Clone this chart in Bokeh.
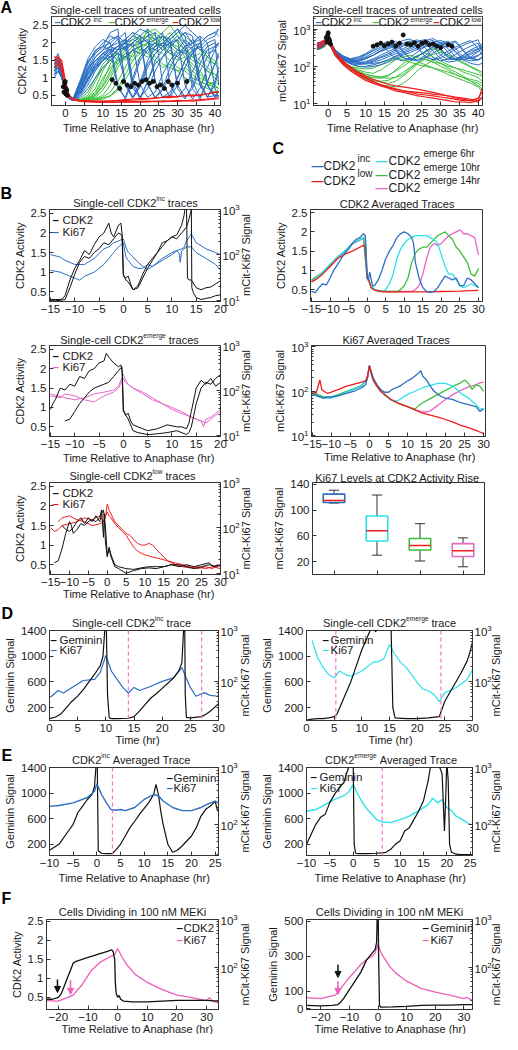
from math import pi
from bokeh.plotting import figure
from bokeh.models import (Range1d, LogAxis, LogScale, FixedTicker, Label, GridBox,
                          NumeralTickFormatter, Span, Arrow, NormalHead)
from bokeh.layouts import column, row
from bokeh.embed import file_html
from bokeh.resources import INLINE

# ---------------- data ----------------
A_T = [-3, -2, -1, 0, 1, 2, 4, 6, 8, 10, 12, 14, 16, 18, 20, 22, 24, 26, 28, 30, 32, 34, 36, 38, 40, 41]
A_CDK2_INC = [
    [1.3, 1.5, 1.2, 0.75, 0.45, 0.4, 0.9, 1.4, 1.8, 1.9, 2.0, 0.8, 0.4, 0.9, 1.5, 1.8, 2.0, 1.9, 2.1, 0.7, 0.4, 0.8, 1.4, 1.8, 1.9, 2.0],
    [1.2, 1.4, 1.1, 0.7, 0.45, 0.38, 0.7, 1.2, 1.6, 1.8, 1.9, 2.0, 2.1, 0.8, 0.4, 0.9, 1.5, 1.8, 2.0, 2.2, 1.9, 0.7, 0.4, 0.9, 1.4, 1.6],
    [1.5, 1.6, 1.3, 0.8, 0.5, 0.42, 0.6, 1.0, 1.4, 1.7, 1.8, 1.9, 2.0, 2.2, 2.1, 0.8, 0.45, 0.7, 1.3, 1.7, 1.9, 2.0, 2.1, 0.8, 0.5, 0.5],
    [1.1, 1.3, 1.0, 0.65, 0.4, 0.35, 0.55, 0.9, 1.3, 1.6, 1.8, 1.7, 0.9, 0.45, 0.8, 1.4, 1.7, 1.9, 2.0, 1.8, 2.1, 1.9, 0.8, 0.45, 0.9, 1.3],
    [1.4, 1.5, 1.2, 0.7, 0.45, 0.4, 0.8, 1.3, 1.5, 1.7, 1.6, 1.8, 1.9, 2.0, 0.8, 0.45, 0.6, 1.1, 1.5, 1.8, 1.7, 1.9, 2.0, 2.2, 2.3, 2.2],
    [1.2, 1.3, 1.1, 0.7, 0.42, 0.36, 0.5, 0.8, 1.2, 1.5, 1.7, 1.9, 2.1, 2.3, 2.2, 2.4, 0.9, 0.45, 0.5, 1.0, 1.5, 1.8, 1.9, 1.7, 1.8, 1.6],
    [1.3, 1.4, 1.2, 0.75, 0.45, 0.4, 0.65, 1.1, 1.5, 1.6, 1.9, 2.1, 1.8, 2.0, 2.2, 2.0, 2.1, 2.3, 0.8, 0.45, 0.7, 1.2, 1.6, 1.9, 2.0, 1.9],
    [1.6, 1.5, 1.2, 0.7, 0.45, 0.38, 0.9, 1.5, 1.7, 1.9, 1.8, 0.7, 0.45, 1.0, 1.6, 1.9, 1.8, 2.0, 1.9, 2.1, 0.8, 0.4, 0.7, 1.3, 1.8, 2.0],
    [1.0, 1.2, 1.0, 0.6, 0.4, 0.35, 0.45, 0.7, 1.0, 1.3, 1.5, 1.7, 1.6, 1.8, 1.9, 1.7, 1.9, 2.0, 2.2, 2.4, 2.0, 1.8, 0.8, 0.45, 0.5, 0.6],
    [1.3, 1.4, 1.1, 0.7, 0.45, 0.4, 0.75, 1.25, 1.6, 1.8, 2.1, 2.2, 2.0, 1.9, 2.0, 2.1, 0.9, 0.45, 0.6, 1.0, 1.5, 1.7, 1.9, 2.1, 2.2, 2.4],
    [1.5, 1.7, 1.3, 0.8, 0.5, 0.4, 0.6, 1.0, 1.3, 1.5, 1.7, 1.5, 1.6, 1.8, 1.7, 1.9, 2.0, 1.8, 2.0, 2.1, 2.3, 2.0, 2.2, 0.8, 0.45, 0.5],
    [1.2, 1.3, 1.0, 0.7, 0.45, 0.38, 0.7, 1.1, 1.4, 1.6, 1.5, 1.7, 1.9, 0.7, 0.45, 0.9, 1.4, 1.6, 1.8, 1.6, 1.9, 2.1, 1.8, 2.0, 0.7, 0.45],
    [1.4, 1.6, 1.3, 0.8, 0.48, 0.4, 0.85, 1.45, 1.75, 2.0, 2.2, 2.1, 2.3, 0.9, 0.45, 0.7, 1.2, 1.6, 1.9, 2.1, 2.3, 2.2, 0.9, 0.45, 0.8, 1.2],
    [1.1, 1.2, 1.0, 0.65, 0.42, 0.37, 0.6, 1.0, 1.35, 1.55, 1.75, 1.9, 1.8, 2.0, 2.2, 0.85, 0.42, 0.65, 1.1, 1.5, 1.8, 2.0, 2.2, 2.0, 2.1, 0.8],
    [1.3, 1.5, 1.1, 0.7, 0.44, 0.38, 0.8, 1.3, 1.7, 1.9, 2.3, 2.4, 0.8, 0.42, 0.75, 1.3, 1.7, 1.9, 2.2, 2.4, 2.2, 0.9, 0.45, 0.9, 1.4, 1.7],
    [1.5, 1.4, 1.2, 0.75, 0.46, 0.39, 0.7, 1.15, 1.5, 1.7, 1.9, 1.8, 2.0, 2.1, 2.0, 2.2, 2.3, 0.85, 0.45, 0.8, 1.3, 1.7, 2.0, 2.2, 2.3, 2.4],
    [1.2, 1.4, 1.1, 0.7, 0.43, 0.37, 0.55, 0.95, 1.25, 1.5, 1.6, 1.8, 2.0, 2.2, 2.4, 2.3, 2.1, 2.2, 2.0, 0.8, 0.45, 0.7, 1.2, 1.6, 1.9, 2.0],
    [1.4, 1.5, 1.3, 0.78, 0.47, 0.41, 0.95, 1.55, 1.9, 2.1, 2.0, 2.2, 0.85, 0.43, 0.9, 1.5, 1.9, 2.2, 2.1, 2.3, 2.5, 2.3, 2.1, 0.8, 0.45, 0.6],
]
A_CDK2_EMERGE = [
    [1.4, 1.5, 1.2, 0.7, 0.45, 0.4, 0.38, 0.45, 0.7, 1.2, 1.6, 1.8, 2.0, 1.9, 2.1, 2.2, 2.0, 1.8, 1.9, 1.7, 1.8, 1.6, 1.7, 1.5, 1.4, 1.3],
    [1.2, 1.3, 1.0, 0.65, 0.42, 0.36, 0.35, 0.4, 0.5, 0.8, 1.2, 1.6, 1.9, 2.1, 2.2, 2.0, 2.3, 2.1, 2.0, 1.9, 1.6, 1.4, 1.2, 0.9, 0.8, 0.7],
    [1.5, 1.6, 1.3, 0.75, 0.45, 0.38, 0.36, 0.38, 0.42, 0.5, 0.8, 1.3, 1.6, 1.8, 1.9, 2.4, 2.2, 1.9, 1.7, 1.5, 1.6, 1.3, 1.1, 0.9, 0.7, 0.6],
    [1.3, 1.4, 1.1, 0.7, 0.44, 0.38, 0.4, 0.6, 1.0, 1.4, 1.6, 1.7, 1.5, 1.8, 1.7, 1.6, 1.8, 2.0, 1.9, 2.1, 1.8, 1.6, 1.4, 1.2, 1.0, 0.9],
    [1.1, 1.2, 1.0, 0.6, 0.42, 0.36, 0.35, 0.36, 0.38, 0.42, 0.5, 0.7, 1.1, 1.5, 1.8, 2.0, 1.9, 2.1, 2.3, 2.0, 1.8, 1.7, 1.5, 1.3, 1.1, 1.0],
    [1.4, 1.5, 1.2, 0.7, 0.45, 0.4, 0.38, 0.5, 0.9, 1.3, 1.5, 1.4, 1.6, 1.5, 1.7, 1.9, 1.6, 1.4, 1.3, 1.2, 1.0, 0.9, 0.8, 0.7, 0.6, 0.6],
    [1.3, 1.3, 1.1, 0.7, 0.43, 0.37, 0.36, 0.37, 0.4, 0.45, 0.6, 0.9, 1.3, 1.7, 2.0, 2.2, 2.1, 2.3, 2.5, 2.2, 2.0, 1.8, 1.9, 1.6, 1.5, 1.4],
    [1.2, 1.4, 1.1, 0.68, 0.44, 0.38, 0.37, 0.42, 0.6, 1.0, 1.3, 1.5, 1.8, 2.0, 1.8, 1.7, 1.5, 1.3, 1.4, 1.2, 1.3, 1.1, 0.9, 0.8, 0.9, 0.8],
    [1.3, 1.4, 1.2, 0.72, 0.44, 0.38, 0.37, 0.39, 0.45, 0.65, 1.0, 1.4, 1.7, 1.9, 2.1, 2.3, 2.4, 2.2, 2.0, 1.8, 1.7, 1.5, 1.4, 1.2, 1.1, 1.0],
    [1.5, 1.5, 1.3, 0.75, 0.46, 0.39, 0.38, 0.42, 0.55, 0.9, 1.4, 1.8, 2.1, 2.3, 2.0, 1.9, 2.1, 1.9, 1.7, 1.6, 1.4, 1.2, 1.0, 0.9, 0.8, 0.7],
    [1.2, 1.3, 1.0, 0.66, 0.43, 0.37, 0.36, 0.36, 0.37, 0.4, 0.48, 0.65, 0.95, 1.3, 1.6, 1.8, 2.0, 2.2, 2.1, 2.3, 2.2, 2.0, 1.8, 1.6, 1.4, 1.3],
    [1.4, 1.5, 1.2, 0.7, 0.45, 0.39, 0.38, 0.4, 0.5, 0.75, 1.1, 1.5, 1.7, 1.6, 1.9, 2.0, 1.8, 1.7, 1.5, 1.3, 1.2, 1.0, 0.9, 0.8, 0.75, 0.7],
]
A_CDK2_LOW = [
    [1.5, 1.6, 1.4, 0.8, 0.5, 0.38, 0.34, 0.33, 0.32, 0.32, 0.31, 0.32, 0.33, 0.32, 0.33, 0.34, 0.33, 0.35, 0.34, 0.36, 0.35, 0.37, 0.38, 0.4, 0.42, 0.4],
    [1.6, 1.6, 1.5, 0.9, 0.5, 0.4, 0.35, 0.34, 0.33, 0.33, 0.34, 0.35, 0.36, 0.37, 0.38, 0.4, 0.42, 0.45, 0.44, 0.47, 0.5, 0.48, 0.52, 0.55, 0.6, 0.62],
    [1.3, 1.4, 1.2, 0.7, 0.45, 0.38, 0.33, 0.32, 0.31, 0.3, 0.3, 0.31, 0.31, 0.32, 0.31, 0.32, 0.33, 0.32, 0.34, 0.33, 0.35, 0.34, 0.36, 0.38, 0.4, 0.45],
    [1.4, 1.5, 1.3, 0.75, 0.48, 0.4, 0.36, 0.35, 0.34, 0.34, 0.35, 0.36, 0.38, 0.4, 0.42, 0.41, 0.43, 0.45, 0.48, 0.46, 0.5, 0.52, 0.5, 0.55, 0.58, 0.6],
]
A_KI67_INC = [
    [350, 400, 450, 600, 350, 250, 180, 160, 180, 220, 300, 450, 250, 160, 140, 180, 250, 350, 450, 300, 180, 150, 200, 280, 350, 400],
    [300, 320, 380, 550, 320, 220, 160, 140, 150, 180, 230, 300, 380, 480, 250, 150, 140, 180, 230, 300, 380, 450, 260, 160, 150, 170],
    [400, 450, 500, 700, 380, 260, 190, 150, 140, 160, 200, 260, 320, 400, 500, 550, 300, 180, 150, 200, 260, 330, 420, 500, 300, 200],
    [280, 300, 350, 500, 300, 200, 150, 130, 140, 170, 200, 250, 300, 350, 420, 480, 520, 300, 170, 140, 160, 210, 280, 350, 420, 250],
    [350, 380, 420, 600, 340, 240, 170, 140, 130, 130, 150, 180, 220, 280, 350, 420, 480, 530, 350, 200, 150, 160, 200, 260, 300, 350],
    [300, 330, 360, 520, 300, 210, 150, 120, 110, 120, 140, 170, 200, 250, 300, 380, 450, 500, 560, 420, 230, 160, 150, 170, 200, 230],
    [420, 450, 520, 750, 400, 270, 190, 160, 170, 210, 260, 330, 420, 260, 170, 150, 190, 250, 330, 400, 480, 300, 180, 160, 190, 240],
    [320, 350, 400, 580, 330, 230, 165, 135, 120, 115, 120, 130, 150, 180, 220, 270, 320, 380, 450, 500, 420, 250, 160, 140, 150, 180],
    [380, 400, 460, 650, 360, 240, 160, 120, 100, 95, 100, 110, 130, 160, 200, 240, 290, 340, 400, 450, 380, 240, 150, 120, 110, 120],
    [330, 360, 410, 560, 320, 220, 150, 115, 100, 100, 110, 125, 150, 190, 240, 300, 360, 400, 260, 160, 130, 140, 170, 210, 260, 300],
    [360, 390, 440, 620, 350, 240, 170, 150, 160, 200, 270, 380, 480, 280, 170, 150, 190, 260, 340, 420, 300, 180, 150, 180, 250, 320],
    [310, 340, 390, 540, 310, 210, 150, 125, 120, 135, 160, 200, 250, 310, 380, 450, 300, 180, 150, 170, 220, 290, 370, 450, 520, 300],
    [400, 420, 480, 680, 370, 250, 175, 140, 125, 120, 130, 150, 180, 220, 270, 330, 390, 450, 500, 280, 170, 150, 180, 230, 290, 350],
    [290, 320, 370, 520, 300, 205, 150, 130, 135, 160, 200, 270, 350, 420, 240, 160, 150, 200, 280, 360, 430, 480, 280, 170, 150, 170],
]
A_KI67_EMERGE = [
    [300, 330, 380, 520, 300, 200, 130, 100, 80, 70, 65, 80, 110, 150, 180, 200, 170, 150, 130, 120, 100, 90, 80, 70, 60, 55],
    [350, 380, 420, 600, 320, 210, 130, 95, 70, 55, 50, 48, 55, 80, 120, 160, 200, 230, 180, 140, 110, 90, 70, 60, 50, 40],
    [280, 300, 330, 480, 280, 180, 120, 90, 70, 60, 55, 50, 48, 50, 60, 90, 130, 170, 210, 240, 200, 160, 130, 100, 80, 70],
    [320, 340, 400, 560, 310, 200, 120, 85, 65, 50, 42, 38, 35, 40, 55, 80, 120, 160, 130, 100, 80, 60, 50, 40, 30, 25],
    [300, 320, 350, 500, 290, 190, 115, 80, 60, 45, 38, 32, 30, 28, 35, 50, 80, 110, 150, 120, 90, 70, 55, 40, 35, 30],
    [340, 360, 400, 550, 300, 200, 130, 100, 90, 85, 90, 110, 140, 170, 150, 130, 110, 100, 90, 80, 70, 60, 50, 45, 40, 35],
    [310, 340, 390, 540, 300, 195, 125, 95, 75, 62, 55, 52, 58, 75, 100, 140, 190, 250, 300, 260, 200, 150, 120, 95, 75, 60],
    [330, 350, 400, 570, 310, 205, 128, 92, 68, 52, 44, 40, 42, 52, 70, 95, 130, 110, 90, 75, 60, 50, 42, 35, 28, 22],
]
A_KI67_LOW = [
    [400, 420, 480, 650, 350, 220, 130, 90, 65, 50, 40, 32, 28, 25, 22, 20, 18, 17, 16, 15, 14, 13, 12, 12, 11, 15],
    [350, 380, 430, 600, 320, 200, 120, 85, 60, 48, 38, 32, 27, 24, 22, 21, 20, 19, 18, 17, 16, 14, 13, 12, 14, 20],
    [300, 330, 380, 550, 300, 190, 110, 75, 55, 42, 35, 30, 26, 22, 20, 18, 16, 15, 14, 13, 12, 11, 11, 10.5, 12, 25],
    [420, 450, 500, 700, 380, 230, 140, 95, 70, 55, 45, 38, 33, 30, 28, 26, 24, 22, 20, 18, 16, 15, 14, 13, 12, 14],
]
DOT_A_T = [-0.6, -0.4, -0.2, 0, 0.1, 0.3, 0.5, -0.1, 12.5, 13.5, 14.5, 15.5, 16.5, 17.5, 18.5, 19.5, 20.5, 21.5, 22.5, 23.5, 24.5, 25.5, 26.5, 27.5, 28.5, 30, 32.5]
DOT_A_CDK2 = [0.75, 0.6, 0.85, 0.55, 0.7, 0.65, 0.5, 0.9, 0.95, 0.85, 0.7, 0.9, 0.8, 0.75, 0.85, 0.8, 0.9, 0.95, 0.85, 0.9, 0.75, 0.8, 0.7, 0.9, 0.8, 0.85, 0.9]
DOT_K_T = [-0.5, -0.3, -0.1, 0, 0.2, 0.4, 0.6, 12, 13, 14, 15, 16, 17, 18, 19, 20, 21, 22, 23, 24, 25, 26, 27, 28, 29, 30, 32, 33]
DOT_K_V = [600, 450, 700, 800, 550, 480, 400, 350, 380, 420, 360, 400, 450, 350, 420, 700, 400, 380, 430, 350, 420, 450, 380, 400, 350, 320, 380, 350]

# B: single-cell traces
B1_K1_T = [-15, -14, -13, -12.5, -12, -11, -10, -9, -8, -7, -6, -5, -4, -3, -2.5, -2, -1, -0.5, -0.2, 0, 0.5, 1, 1.5, 2, 3, 4, 5, 6, 7, 8, 9, 10, 11, 12, 12.5, 12.8, 13, 13.2, 13.5, 14, 15, 16, 17, 18, 19, 20]
B1_K1 = [0.3, 0.3, 0.3, 0.32, 0.4, 0.8, 1.1, 1.3, 1.55, 1.45, 1.7, 1.9, 2.0, 2.25, 2.0, 1.9, 2.2, 2.25, 1.9, 0.9, 0.85, 0.9, 0.7, 0.55, 0.65, 0.95, 1.2, 1.35, 1.5, 1.75, 1.8, 1.9, 1.95, 2.2, 2.45, 2.7, 2.7, 0.85, 0.8, 0.8, 0.6, 0.55, 0.6, 0.62, 0.7, 0.78]
B1_K2_T = [-15, -14, -13, -12, -11.5, -11, -10, -9, -8, -7, -6, -5, -4, -3, -2, -1, -0.3, 0, 0.5, 1, 2, 3, 4, 5, 6, 7, 8, 9, 10, 11, 12, 13, 13.5, 14, 14.1, 14.5, 15, 16, 17, 18, 19, 20]
B1_K2 = [0.27, 0.27, 0.28, 0.3, 0.45, 0.6, 0.95, 1.25, 1.4, 1.35, 1.5, 1.6, 1.75, 1.7, 1.85, 2.0, 1.95, 0.95, 0.8, 0.75, 0.55, 0.6, 0.85, 1.1, 1.3, 1.5, 1.65, 1.8, 1.9, 1.85, 2.0, 2.15, 2.35, 2.6, 0.6, 0.45, 0.35, 0.3, 0.33, 0.35, 0.4, 0.42]
B1_P1_T = [-15, -13, -12, -10, -8, -6, -4, -3, -2, -1, -0.5, 0, 0.5, 1, 2, 3, 4, 5, 6, 8, 10, 12, 12.5, 13, 14, 15, 16, 17, 19, 20]
B1_P1 = [102, 90, 76, 62, 62, 84, 137, 150, 185, 204, 215, 225, 150, 115, 90, 70, 56, 48, 56, 84, 113, 137, 145, 204, 290, 185, 160, 137, 113, 102]
B1_P2_T = [-15, -13, -12, -10, -9, -8, -6, -4, -2, -1, -0.5, 0, 0.5, 1, 2, 3, 4, 5, 6, 8, 10, 11, 11.5, 11.7, 12, 13, 14, 15, 17, 19, 20]
B1_P2 = [46, 42, 38, 31, 28, 34, 42, 62, 113, 151, 167, 185, 92, 76, 56, 51, 51, 62, 56, 76, 102, 124, 110, 69, 124, 151, 151, 113, 84, 62, 46]

B2_K1_T = [-15, -14.5, -14, -13, -12, -11, -10, -9, -8, -7, -6, -5, -4, -3.5, -3, -2, -1, -0.5, -0.2, 0, 0.5, 1, 1.5, 2, 3, 4, 5, 7, 9, 11, 12, 13, 13.5, 14, 15, 16, 17, 18, 19, 20]
B2_K1 = [0.95, 1.1, 1.2, 1.5, 1.45, 1.6, 1.55, 1.8, 1.75, 1.95, 2.0, 2.15, 2.2, 2.4, 2.3, 2.15, 2.05, 2.1, 1.9, 0.9, 0.8, 0.85, 0.65, 0.55, 0.5, 0.45, 0.4, 0.45, 0.55, 0.5, 0.5, 0.45, 0.6, 0.9, 1.5, 1.7, 1.6, 1.75, 1.55, 1.65]
B2_K2_T = [-12, -11, -10, -9, -8, -7, -6, -5, -4, -3, -2, -1, -0.3, 0, 0.5, 1, 2, 3, 5, 7, 9, 11, 13, 13.5, 14, 15, 16, 17, 18, 19, 20]
B2_K2 = [0.65, 0.7, 0.9, 1.1, 1.25, 1.4, 1.5, 1.55, 1.6, 1.65, 1.8, 1.95, 2.05, 0.95, 0.8, 0.7, 0.4, 0.35, 0.3, 0.32, 0.35, 0.4, 0.3, 0.35, 0.5, 1.1, 1.5, 1.65, 1.6, 1.75, 1.85]
B2_P1_T = [-15, -12, -10, -8, -6, -4, -2, -1, 0, 0.5, 1, 2, 4, 6, 8, 10, 12, 14, 16, 16.5, 17, 18, 19, 20]
B2_P1 = [84, 69, 62, 69, 84, 92, 102, 124, 225, 167, 137, 113, 84, 62, 51, 42, 34, 25.6, 21, 15.6, 23, 25.6, 31, 38]
B2_P2_T = [-15, -13, -12, -10, -8, -6, -4, -2, -1, 0, 0.5, 1, 2, 4, 6, 8, 10, 12, 14, 16, 17, 18, 19, 20]
B2_P2 = [76, 69, 84, 76, 62, 56, 76, 92, 113, 185, 151, 137, 113, 92, 69, 51, 38, 31, 25.6, 21, 19, 23, 28, 34]

B3_K1_T = [-14, -13, -12, -11, -10, -9.5, -9, -8, -7, -6, -5, -4, -3, -2, -1.5, -1, -0.8, -0.5, 0, 0.5, 1, 2, 3, 5, 7, 9, 11, 13, 15, 17, 19, 21, 23, 25, 27, 28, 30]
B3_K1 = [0.55, 0.6, 0.9, 1.3, 1.6, 1.5, 1.3, 1.4, 1.55, 1.5, 1.6, 1.65, 1.6, 1.7, 1.9, 1.2, 1.8, 1.1, 0.7, 0.95, 0.75, 0.5, 0.45, 0.4, 0.38, 0.42, 0.45, 0.45, 0.45, 0.5, 0.45, 0.5, 0.45, 0.5, 0.55, 0.45, 0.5]
B3_K2_T = [-12, -11, -10, -9, -8, -7, -6, -5, -4, -3, -2, -1.5, -1, -0.5, 0, 0.5, 1, 2, 3, 5, 7, 9, 11, 13, 15, 17, 19, 21, 23, 25, 27, 29, 30]
B3_K2 = [1.5, 1.4, 1.35, 1.45, 1.6, 1.7, 1.55, 1.7, 1.6, 1.75, 1.6, 1.8, 1.9, 1.5, 0.75, 0.9, 0.7, 0.45, 0.4, 0.28, 0.35, 0.4, 0.42, 0.4, 0.45, 0.5, 0.5, 0.45, 0.4, 0.45, 0.5, 0.45, 0.5]
B3_P1_T = [-15, -14, -13, -12, -10, -8, -6, -4, -2, -1, -0.5, 0, 0.5, 1, 2, 3, 4, 5, 6, 7, 8, 9, 10, 11, 12, 13, 14, 15, 16, 18, 20, 22, 24, 26, 28, 29, 30]
B3_P1 = [102, 84, 92, 113, 124, 137, 167, 151, 185, 137, 167, 335, 248, 204, 137, 113, 92, 76, 69, 56, 46, 42, 42, 46, 42, 34, 28, 23, 19, 17, 15.6, 14, 12.8, 14, 12.8, 15.6, 14]
B3_P2_T = [-13, -12, -10, -8, -6, -4, -2, -1, 0, 0.5, 1, 2, 3, 4, 5, 6, 7, 8, 9, 10, 12, 14, 16, 18, 20, 22, 24, 26, 28, 30]
B3_P2 = [137, 167, 185, 151, 137, 113, 124, 137, 225, 185, 167, 124, 102, 84, 69, 51, 38, 31, 28, 25.6, 23, 21, 19, 15.6, 14, 13.3, 14, 12.8, 14, 12.8]

# C: averaged traces
C1_INC_T = [-15, -14, -13, -12, -11, -10, -9, -8, -7, -6, -5, -4, -3, -2, -1, -0.5, 0, 0.3, 0.7, 1, 1.5, 2, 3, 4, 5, 6, 7, 8, 9, 10, 11, 12, 12.5, 13, 14, 15, 16, 17, 18, 19, 20, 21, 22, 23, 24, 25, 26, 27, 28, 29, 30]
C1_INC = [0.45, 0.42, 0.55, 0.65, 0.62, 0.8, 1.0, 1.15, 1.3, 1.45, 1.55, 1.7, 1.8, 1.85, 1.95, 1.9, 0.85, 0.75, 0.95, 0.8, 0.6, 0.6, 0.75, 1.0, 1.3, 1.5, 1.65, 1.85, 1.95, 2.0, 1.95, 1.85, 1.7, 1.2, 0.8, 0.55, 0.45, 0.43, 0.45, 0.55, 0.7, 0.85, 0.8, 0.75, 0.8, 0.6, 0.6, 0.8, 0.75, 0.65, 0.55]
C1_LOW_T = [-15, -14, -12, -10, -8, -6, -4, -2, -1, -0.5, 0, 0.5, 1, 2, 4, 6, 10, 15, 20, 25, 30]
C1_LOW = [0.7, 0.75, 0.9, 1.1, 1.3, 1.42, 1.5, 1.6, 1.65, 1.62, 0.8, 0.75, 0.55, 0.48, 0.45, 0.44, 0.44, 0.44, 0.45, 0.46, 0.48]
C1_E6_T = [-15, -14, -12, -10, -8, -6, -4, -2, -1, -0.5, 0, 0.5, 1, 2, 3, 4, 5, 6, 7, 8, 9, 10, 11, 12, 13, 14, 16, 17, 18, 19, 20, 21, 22, 23, 24, 25, 26, 27, 28, 29, 30]
C1_E6 = [0.7, 0.78, 0.95, 1.15, 1.35, 1.5, 1.7, 1.8, 1.85, 1.85, 0.8, 0.75, 0.6, 0.5, 0.45, 0.45, 0.5, 0.65, 0.9, 1.3, 1.55, 1.7, 1.8, 1.85, 1.9, 1.9, 1.9, 1.85, 1.8, 1.7, 1.4, 1.1, 0.9, 0.9, 0.75, 0.6, 0.55, 0.6, 0.65, 0.6, 0.55]
C1_E10_T = [-15, -12, -10, -8, -6, -4, -2, -1, 0, 1, 2, 4, 6, 8, 9, 10, 11, 12, 13, 14, 15, 16, 17, 18, 19, 20, 21, 22, 23, 24, 25, 26, 27, 28, 29, 30]
C1_E10 = [0.75, 0.95, 1.15, 1.35, 1.5, 1.7, 1.8, 1.85, 0.8, 0.6, 0.5, 0.45, 0.45, 0.45, 0.5, 0.6, 0.8, 1.2, 1.45, 1.55, 1.6, 1.6, 1.7, 1.8, 1.9, 1.95, 2.0, 1.9, 1.8, 1.6, 1.5, 1.35, 1.2, 0.9, 0.85, 1.05]
C1_E14_T = [-15, -12, -10, -8, -6, -4, -2, -1, 0, 1, 2, 4, 8, 12, 13, 14, 15, 16, 17, 18, 19, 20, 21, 22, 23, 24, 25, 26, 27, 28, 29, 30]
C1_E14 = [0.72, 0.92, 1.12, 1.32, 1.48, 1.68, 1.78, 1.83, 0.8, 0.6, 0.5, 0.45, 0.45, 0.45, 0.5, 0.6, 0.9, 1.3, 1.6, 1.7, 1.65, 1.7, 1.8, 1.9, 1.95, 2.0, 2.05, 1.95, 1.95, 1.9, 1.85, 1.4]

C2_INC_T = [-15, -14, -13, -12, -11, -10, -8, -6, -4, -2, -1, -0.5, 0, 0.5, 1, 2, 3, 4, 5, 6, 7, 8, 9, 10, 11, 12, 13, 13.5, 14, 15, 16, 17, 18, 19, 20, 22, 24, 26, 28, 29, 30]
C2_INC = [90, 80, 75, 70, 75, 75, 80, 90, 100, 120, 140, 200, 380, 280, 200, 140, 110, 95, 95, 110, 120, 130, 150, 170, 190, 220, 260, 290, 220, 180, 130, 100, 85, 75, 70, 65, 55, 50, 45, 35, 40]
C2_LOW_T = [-15, -14, -13, -12.5, -12, -11, -10, -8, -6, -4, -2, -1, -0.5, 0, 0.5, 1, 2, 3, 4, 5, 6, 8, 10, 12, 14, 16, 18, 20, 22, 24, 26, 28, 29, 30]
C2_LOW = [100, 90, 180, 110, 100, 90, 95, 110, 130, 145, 160, 170, 220, 380, 250, 180, 130, 100, 85, 72, 63, 52, 45, 38, 32, 29, 26, 23, 20, 17, 15, 13, 12, 11]
C2_E6_T = [-15, -12, -10, -8, -6, -4, -2, -0.5, 0, 0.5, 1, 2, 3, 4, 5, 6, 7, 8, 9, 10, 12, 14, 16, 18, 20, 21, 22, 23, 24, 26, 28, 29, 30]
C2_E6 = [85, 70, 70, 80, 95, 110, 130, 200, 370, 260, 180, 130, 100, 85, 72, 62, 60, 65, 75, 85, 100, 120, 135, 150, 150, 140, 130, 110, 90, 70, 50, 40, 40]
C2_E10_T = [-15, -12, -10, -8, -6, -4, -2, -0.5, 0, 0.5, 1, 2, 3, 4, 5, 6, 8, 10, 11, 12, 13, 14, 16, 18, 20, 22, 24, 25, 26, 27, 28, 29, 30]
C2_E10 = [95, 75, 75, 85, 100, 115, 135, 200, 380, 260, 180, 130, 100, 82, 70, 62, 52, 45, 42, 40, 48, 55, 68, 85, 105, 130, 155, 180, 150, 110, 140, 130, 100]
C2_E14_T = [-15, -12, -10, -8, -6, -4, -2, -0.5, 0, 0.5, 1, 2, 3, 4, 5, 6, 8, 10, 12, 14, 15, 16, 18, 20, 22, 24, 26, 28, 29, 30]
C2_E14 = [90, 72, 72, 82, 97, 112, 132, 200, 370, 255, 178, 128, 98, 82, 70, 62, 52, 45, 38, 34, 34, 36, 48, 65, 85, 105, 125, 140, 155, 160]

BOX_POS = [1, 2, 3, 4]
BOX_LO = [111, 30, 21, 12]
BOX_Q1 = [112, 52, 38, 28]
BOX_MED = [115, 68, 45, 37]
BOX_Q3 = [125, 91, 56, 48]
BOX_HI = [131, 123.5, 79, 57]

# D: single-cell Geminin / Ki67
DL_G_T = [0, 1, 2, 3, 4, 5, 6, 7, 8, 9, 9.5, 9.8, 10, 10.1, 10.3, 10.6, 11, 12, 14, 15, 16, 17, 18, 19, 20, 21, 22, 23, 23.5, 23.8, 24, 24.1, 24.3, 25, 27, 28, 29, 30]
DL_G = [30, 50, 100, 200, 300, 380, 480, 600, 720, 850, 1000, 1400, 1500, 1400, 400, 40, 30, 30, 35, 60, 150, 250, 350, 420, 500, 580, 660, 780, 900, 1400, 1500, 400, 50, 40, 60, 110, 180, 260]
DL_K_T = [0, 0.5, 1.5, 2.5, 4, 6, 8, 9, 10, 11, 12, 13, 14, 15, 16, 18, 20, 22, 23.5, 24, 25, 26, 27.5, 28.5, 30]
DL_K = [49, 52, 66, 59, 76, 104, 109, 149, 322, 158, 109, 76, 59, 76, 66, 80, 100, 117, 187, 136, 76, 51, 60, 53, 51]
DL_MARK = [14, 27]
DR_G_T = [0, 1, 2, 3, 4, 5, 5.5, 6, 7, 8, 9, 10, 11, 11.5, 12, 12.5, 13, 14, 15, 15.3, 15.6, 16, 18, 20, 22, 24, 25, 26, 27, 28, 29, 29.5, 30]
DR_G = [5, 20, 30, 30, 40, 60, 100, 200, 400, 600, 850, 1100, 1300, 1400, 1450, 1380, 1450, 1500, 1500, 1400, 200, 40, 30, 30, 40, 60, 300, 450, 600, 750, 920, 1050, 1220]
DR_K_T = [1, 2, 3, 4, 5, 6, 7, 8, 10, 12, 13, 14, 15, 16, 17, 18, 19, 20, 21, 22, 23, 24, 25, 26, 27, 28, 29, 30]
DR_K = [635, 294, 188, 136, 117, 160, 136, 126, 160, 236, 245, 280, 531, 337, 236, 188, 136, 95, 70, 66, 56, 40, 60, 66, 76, 90, 109, 168]
DR_MARK = [5.3, 24.3]

# E: averaged Geminin / Ki67
EL_G_T = [-10, -9, -8, -7, -6, -5, -4, -3, -2, -1, -0.5, -0.2, 0, 0.1, 0.3, 1, 2, 3, 3.3, 4, 5, 6, 7, 8, 9, 10, 11, 12, 12.5, 13, 13.5, 14, 15, 16, 17, 18, 19, 20, 21, 22, 23, 24, 25, 25.5]
EL_G = [107, 153, 200, 304, 408, 512, 697, 797, 900, 980, 1100, 1400, 1500, 1400, 100, 60, 55, 55, 60, 110, 200, 330, 460, 560, 668, 760, 855, 980, 1135, 980, 720, 512, 200, 75, 107, 174, 252, 330, 460, 641, 746, 797, 875, 720]
EL_K_T = [-10, -8, -5, -2, -0.5, 0, 1, 2, 3, 4, 5, 6, 8, 10, 12, 13, 14, 16, 18, 20, 22, 24, 25, 25.5]
EL_K = [208, 215, 240, 298, 384, 518, 336, 243, 183, 178, 183, 175, 199, 275, 336, 320, 258, 199, 175, 175, 199, 240, 258, 240]
EL_MARK = [3.3]
ER_G_T = [-10, -9, -8, -7, -6, -5, -4, -3, -2, -1.5, -1, -0.5, 0, 0.2, 0.5, 1, 3, 5, 6, 7, 8, 9, 10, 11, 12, 13, 14, 15, 16, 16.5, 17, 18, 19, 19.5, 19.8, 20, 20.3, 20.6, 21, 22, 23, 24, 25]
ER_G = [200, 356, 512, 621, 668, 855, 980, 1088, 1166, 1291, 1400, 1500, 1400, 200, 60, 55, 55, 60, 65, 75, 122, 200, 252, 408, 460, 590, 720, 875, 1187, 1400, 1500, 1500, 1300, 408, 980, 1500, 1200, 200, 75, 45, 40, 38, 40]
ER_K_T = [-10, -8, -6, -4, -2, -1, 0, 1, 2, 3, 4, 5, 6, 8, 10, 12, 14, 16, 17, 18, 19, 20, 21, 22, 24, 25]
ER_K = [171, 183, 224, 275, 320, 368, 504, 336, 243, 183, 150, 122, 112, 108, 122, 140, 175, 224, 290, 240, 275, 199, 175, 140, 113, 101]
ER_MARK = [6.2]

# F: MEKi
FL_C_T = [-24, -22, -20, -19, -18, -17, -16, -15, -14, -12, -10, -8, -6, -4, -2, -1.5, -1, -0.8, -0.5, 0, 0.5, 1, 2, 5, 10, 15, 20, 25, 30, 34]
FL_C = [0.45, 0.45, 0.5, 0.6, 0.8, 1.0, 1.2, 1.4, 1.45, 1.5, 1.55, 1.6, 1.65, 1.7, 1.75, 1.7, 1.5, 0.9, 0.6, 0.5, 0.55, 0.45, 0.4, 0.38, 0.38, 0.4, 0.42, 0.42, 0.42, 0.4]
FL_K_T = [-24, -20, -17, -15, -12, -9, -6, -3, -1, 0, 1, 3, 6, 10, 15, 20, 25, 30, 31, 32, 34]
FL_K = [20, 19.5, 23, 26, 43, 83, 126, 160, 185, 247, 185, 114, 70, 48, 34, 26, 23, 20, 23, 19.5, 18]
FL_ARROW_X = [-20.3, -15.9]
FL_ARROW_Y0 = [0.97, 0.95]
FL_ARROW_Y1 = [0.63, 0.58]
FR_G_T = [-25, -20, -16, -14, -13, -12, -10, -8, -6, -4, -2, -1, -0.5, -0.2, 0, 0.2, 0.5, 1, 5, 10, 15, 20, 25, 30, 33]
FR_G = [20, 18, 20, 25, 40, 60, 110, 160, 210, 280, 320, 340, 380, 600, 600, 300, 20, 10, 12, 15, 20, 22, 22, 25, 25]
FR_K_T = [-25, -20, -15, -14, -12, -10, -8, -6, -4, -2, -1, 0, 1, 2, 4, 6, 10, 15, 20, 25, 30, 31, 33]
FR_K = [23, 22, 26, 30, 43, 61, 83, 114, 145, 170, 203, 299, 203, 160, 105, 77, 51, 36, 30, 26, 22, 23.5, 20]
FR_ARROW_X = [-14, -14]
FR_ARROW_Y0 = [254, 158]
FR_ARROW_Y1 = [180, 83]

LOGMINOR = [2, 3, 4, 5, 6, 7, 8, 9, 20, 30, 40, 50, 60, 70, 80, 90, 200, 300, 400, 500, 600, 700, 800, 900, 2000]

# ---------------- style ----------------
FONT = "Liberation Sans"
TXT = "#1a1a1a"
AXC = "#333333"
BLUE = "#2b6fc2"
GREEN = "#3cc03c"
RED = "#f01e1e"
CYAN = "#2ae2ec"
MAGENTA = "#e468c6"
PINK = "#ea5fb9"
BLACK = "#111111"
DASHC = "#ff6ccc"

WID = {' ': 278, '-': 333, '(': 333, ')': 333, '.': 278, '0': 556, '1': 556, '2': 556, '3': 556, '4': 556,
       '5': 556, '6': 556, '7': 556, '8': 556, '9': 556, 'A': 667, 'B': 667, 'C': 722, 'D': 722, 'E': 667,
       'F': 611, 'G': 778, 'K': 667, 'L': 556, 'M': 833, 'N': 722, 'R': 722, 'S': 667, 'T': 611,
       'a': 556, 'b': 556, 'c': 500, 'd': 556, 'e': 556, 'f': 278, 'g': 556, 'h': 556, 'i': 222,
       'k': 500, 'l': 222, 'm': 833, 'n': 556, 'o': 556, 'p': 556, 'r': 333, 's': 500, 't': 278,
       'u': 556, 'v': 500, 'w': 722, 'y': 500, '\u2013': 556, '\u2014': 1000}


def tw(s, size):
    return sum(WID.get(c, 556) for c in s) * size / 1000.0


LW, RW = 251, 251
ROW_H = [138, 180, 146, 140, 142, 138, 150]
ROW_Y = [0, 138, 318, 464, 604, 746, 884]
TOTAL_W, TOTAL_H = LW + RW, sum(ROW_H)

# transparent overlay covering the whole page: titles, letters, legends, right-axis titles
OV = figure(width=TOTAL_W, height=TOTAL_H, x_range=Range1d(0, TOTAL_W), y_range=Range1d(TOTAL_H, 0),
            output_backend="svg", toolbar_location=None, x_axis_location=None, y_axis_location=None,
            min_border=0, title=None)
OV.xgrid.visible = False
OV.ygrid.visible = False
OV.outline_line_color = None
OV.background_fill_alpha = 0
OV.border_fill_alpha = 0
OV.background_fill_color = None
OV.border_fill_color = None


def style(ax, label=None, tick_standoff=3, label_standoff=2):
    ax.major_label_text_font = FONT
    ax.major_label_text_font_size = "11.5px"
    ax.major_label_text_color = TXT
    ax.axis_line_color = AXC
    ax.major_tick_line_color = AXC
    ax.minor_tick_line_color = AXC
    ax.major_tick_in = 4
    ax.major_tick_out = 0
    ax.minor_tick_in = 2
    ax.minor_tick_out = 0
    ax.major_label_standoff = tick_standoff
    if label is not None:
        ax.axis_label = label
        ax.axis_label_text_font = FONT
        ax.axis_label_text_font_size = "11px"
        ax.axis_label_text_font_style = "normal"
        ax.axis_label_text_color = TXT
        ax.axis_label_standoff = label_standoff


def mk(col, ri, fx0, fx1, fy0, fy1, xr, yr, xticks, yticks, ylabel, ylog=False, yfmt=None):
    w = LW if col == 0 else RW
    h = ROW_H[ri]
    p = figure(width=w, height=h, title=None, x_range=Range1d(*xr), y_range=Range1d(*yr),
               y_axis_type="log" if ylog else "linear", output_backend="svg",
               toolbar_location=None, min_border_left=fx0, min_border_right=w - fx1,
               min_border_top=fy0, min_border_bottom=h - fy1)
    p.xgrid.visible = False
    p.ygrid.visible = False
    p.outline_line_color = AXC
    p.background_fill_color = "white"
    p.border_fill_color = "white"
    p.xaxis.ticker = FixedTicker(ticks=xticks, minor_ticks=[])
    p.yaxis.ticker = FixedTicker(ticks=yticks, minor_ticks=LOGMINOR if ylog else [])
    if yfmt is not None:
        p.yaxis.formatter = yfmt
    for ax in p.xaxis:
        style(ax)
    for ax in p.yaxis:
        style(ax, ylabel, 3, 2)
    return {"p": p, "ox": 0 if col == 0 else LW, "oy": ROW_Y[ri], "xr": xr, "yr": yr,
            "fy0": fy0, "fy1": fy1}


def put(P, x, y, text, size=11, color=TXT, align="left", bold=False, angle=0.0):
    OV.add_layout(Label(x=P["ox"] + x, y=P["oy"] + y, text=text, text_font=FONT,
                        text_font_size=f"{size}px", text_color=color, text_align=align,
                        text_baseline="middle", angle=angle,
                        text_font_style="bold" if bold else "normal"))


def right_log(P, lo, hi, label_x):
    p = P["p"]
    p.extra_y_ranges = {"k": Range1d(lo, hi)}
    p.extra_y_scales = {"k": LogScale()}
    ax = LogAxis(y_range_name="k", ticker=FixedTicker(ticks=[10, 100, 1000], minor_ticks=LOGMINOR))
    style(ax, None, 2, 0)
    p.add_layout(ax, "right")
    put(P, label_x, (P["fy0"] + P["fy1"]) / 2.0, "mCit-Ki67 Signal", 11, TXT, "center", False, pi / 2)


def rich(P, x, y, parts, size=11, sup=None, align="center", color=TXT, raise_=None):
    sup = sup if sup is not None else size * 0.6
    raise_ = raise_ if raise_ is not None else size * 0.35
    widths = [tw(t, sup if s else size) for t, s in parts]
    x0 = x - sum(widths) / 2.0 if align == "center" else x
    for (t, s), wd in zip(parts, widths):
        sz = sup if s else size
        lead = len(t) - len(t.lstrip(" "))
        put(P, x0 + lead * 278 * sz / 1000.0, y - (raise_ if s else 0), t.strip(" "), sz, color)
        x0 += wd


def letter(P, x, y, t):
    put(P, x, y, t, 16, "#000000", "left", True)


def leg(P, xd, xt, y, text, color):
    put(P, xd, y, "\u2013", 11.5, color, "left", True)
    put(P, xt, y, text, 11.5)


def lines(P, ts, vs, color, width=1.0, right=False):
    kw = {"y_range_name": "k"} if right else {}
    P["p"].line(ts, vs, line_color=color, line_width=width, **kw)


def vmark(P, xs):
    for xv in xs:
        P["p"].add_layout(Span(location=xv, dimension="height", line_color=DASHC,
                               line_dash="4 3", line_width=1.2))


CDKFMT = NumeralTickFormatter(format="0.[0]")
TRL = "Time Relative to Anaphase (hr)"

# ---------------- row 1 : A ----------------
XT_A = [0, 5, 10, 15, 20, 25, 30, 35, 40]
AL = mk(0, 0, 51, 220, 16, 105, (-3.75, 41.5), (0.214, 2.757), XT_A, [0.5, 1, 1.5, 2, 2.5], "CDK2 Activity", yfmt=CDKFMT)
pa = AL["p"]
pa.multi_line([A_T[:len(v)] for v in A_CDK2_EMERGE], A_CDK2_EMERGE, line_color=GREEN, line_width=1)
pa.multi_line([A_T[:len(v)] for v in A_CDK2_INC], A_CDK2_INC, line_color=BLUE, line_width=1)
pa.multi_line([A_T[:len(v)] for v in A_CDK2_LOW], A_CDK2_LOW, line_color=RED, line_width=1.2)
pa.scatter(DOT_A_T, DOT_A_CDK2, size=4, color=BLACK)
pa.quad(left=[AL["xr"][0]], right=[AL["xr"][1]], bottom=[2.5], top=[AL["yr"][1]],
        fill_color="white", line_color=AXC, line_width=1)
letter(AL, 0, 7, "A")
put(AL, 135, 9, "Single-cell traces of untreated cells", 11, align="center")
put(AL, 138.5, 127, TRL, 11, align="center")
for xd, xt, xs, sup, c in [(54, 60, 93, "inc", BLUE), (108, 114, 146, "emerge", GREEN), (172, 178, 210, "low", RED)]:
    put(AL, xd, 21, "\u2013", 11, c, bold=True)
    put(AL, xt, 21, "CDK2", 11.5)
    put(AL, xs, 18.5, sup, 6.5)

AR = mk(1, 0, 62, 231, 16, 105, (-3.92, 41.15), (8.86, 2200), XT_A, [10, 100, 1000], "mCit-Ki67 Signal", ylog=True)
pr = AR["p"]
pr.multi_line([A_T[:len(v)] for v in A_KI67_EMERGE], A_KI67_EMERGE, line_color=GREEN, line_width=1)
pr.multi_line([A_T[:len(v)] for v in A_KI67_INC], A_KI67_INC, line_color=BLUE, line_width=1)
pr.multi_line([A_T[:len(v)] for v in A_KI67_LOW], A_KI67_LOW, line_color=RED, line_width=1.2)
pr.scatter(DOT_K_T, DOT_K_V, size=4, color=BLACK)
pr.quad(left=[AR["xr"][0]], right=[AR["xr"][1]], bottom=[1274], top=[AR["yr"][1]],
        fill_color="white", line_color=AXC, line_width=1)
put(AR, 146, 9, "Single-cell traces of untreated cells", 11, align="center")
put(AR, 151.5, 127, TRL, 11, align="center")
for xd, xt, xs, sup, c in [(64, 70, 102, "inc", BLUE), (121, 127, 159, "emerge", GREEN), (182, 188, 220, "low", RED)]:
    put(AR, xd, 21, "\u2013", 11, c, bold=True)
    put(AR, xt, 21, "CDK2", 11.5)
    put(AR, xs, 18.5, sup, 6.5)

# ---------------- row 2 : B1 / C1 ----------------
XT_B = [-15, -10, -5, 0, 5, 10, 15, 20]
XT_C = [-15, -10, -5, 0, 5, 10, 15, 20, 25, 30]
YT_CDK = [0.5, 1, 1.5, 2, 2.5]

B1 = mk(0, 1, 49, 220, 70, 163, (-15.2, 20), (0.25, 2.6), XT_B, YT_CDK, "CDK2 Activity", yfmt=CDKFMT)
right_log(B1, 9.5, 1000, 245)
lines(B1, B1_P1_T, B1_P1, BLUE, 1, True)
lines(B1, B1_P2_T, B1_P2, BLUE, 1, True)
lines(B1, B1_K1_T, B1_K1, BLACK, 1)
lines(B1, B1_K2_T, B1_K2, BLACK, 1)
letter(B1, 0, 55, "B")
rich(B1, 135, 64, [("Single-cell CDK2", False), ("inc", True), (" traces", False)])
leg(B1, 52, 62, 81, "CDK2", BLACK)
leg(B1, 52, 62, 93, "Ki67", BLUE)

C1 = mk(1, 1, 59, 231, 71, 163, (-15.27, 31.08), (0.19, 2.58), XT_C, YT_CDK, "CDK2 Activity", yfmt=CDKFMT)
lines(C1, C1_E14_T, C1_E14, MAGENTA, 1.3)
lines(C1, C1_E10_T, C1_E10, GREEN, 1.3)
lines(C1, C1_E6_T, C1_E6, CYAN, 1.3)
lines(C1, C1_LOW_T, C1_LOW, RED, 1.3)
lines(C1, C1_INC_T, C1_INC, BLUE, 1.3)
letter(C1, 21, 10, "C")
put(C1, 146, 65, "CDK2 Averaged Traces", 11, align="center")
for xd, xt, xs, y, sup, c in [(60, 72, 106, 27, "inc", BLUE), (60, 72, 106, 42, "low", RED),
                              (124, 137, 172, 22, "emerge 6hr", CYAN), (124, 137, 172, 36, "emerge 10hr", GREEN),
                              (124, 137, 172, 49, "emerge 14hr", MAGENTA)]:
    put(C1, xd, y, "\u2014", 12, c, bold=True)
    put(C1, xt, y, "CDK2", 12)
    put(C1, xs, y - 7, sup, 10)

# ---------------- row 3 : B2 / C2 ----------------
B2 = mk(0, 2, 49, 220, 27, 118, (-15.2, 20), (0.25, 2.6), XT_B, YT_CDK, "CDK2 Activity", yfmt=CDKFMT)
right_log(B2, 9.5, 1000, 245)
lines(B2, B2_P1_T, B2_P1, MAGENTA, 1, True)
lines(B2, B2_P2_T, B2_P2, MAGENTA, 1, True)
lines(B2, B2_K1_T, B2_K1, BLACK, 1)
lines(B2, B2_K2_T, B2_K2, BLACK, 1)
rich(B2, 129, 21, [("Single-cell CDK2", False), ("emerge", True), (" traces", False)])
put(B2, 138.5, 139, TRL, 11, align="center")
leg(B2, 52, 62, 37, "CDK2", BLACK)
leg(B2, 52, 62, 48, "Ki67", MAGENTA)

C2 = mk(1, 2, 60, 234, 27, 118, (-15.2, 30.5), (9.5, 1080), XT_C, [10, 100, 1000], "mCit-Ki67 Signal", ylog=True)
lines(C2, C2_E14_T, C2_E14, MAGENTA, 1.3)
lines(C2, C2_E10_T, C2_E10, GREEN, 1.3)
lines(C2, C2_E6_T, C2_E6, CYAN, 1.3)
lines(C2, C2_INC_T, C2_INC, BLUE, 1.3)
lines(C2, C2_LOW_T, C2_LOW, RED, 1.3)
put(C2, 145, 21, "Ki67 Averaged Traces", 11, align="center")
put(C2, 148.5, 138, TRL, 11, align="center")

# ---------------- row 4 : B3 / C3 ----------------
B3 = mk(0, 3, 49, 220, 18, 110, (-15.3, 30), (0.25, 2.6), XT_C, YT_CDK, "CDK2 Activity", yfmt=CDKFMT)
right_log(B3, 9.5, 1000, 245)
lines(B3, B3_P1_T, B3_P1, RED, 1, True)
lines(B3, B3_P2_T, B3_P2, RED, 1, True)
lines(B3, B3_K1_T, B3_K1, BLACK, 1)
lines(B3, B3_K2_T, B3_K2, BLACK, 1)
rich(B3, 132, 11, [("Single-cell CDK2", False), ("low", True), (" traces", False)])
put(B3, 138.5, 129, TRL, 11, align="center")
leg(B3, 52, 62, 28, "CDK2", BLACK)
leg(B3, 52, 62, 39, "Ki67", RED)

C3 = mk(1, 3, 61, 233, 18, 110, (0.5, 4.5), (0, 143), BOX_POS, [20, 60, 100, 140], "mCit-Ki67 Signal")
C3["p"].xaxis.major_label_overrides = {1: "", 2: "", 3: "", 4: ""}
pb = C3["p"]
BOXC = [BLUE, CYAN, GREEN, MAGENTA]
pb.segment(x0=BOX_POS, y0=BOX_Q3, x1=BOX_POS, y1=BOX_HI, line_color=AXC, line_width=1)
pb.segment(x0=BOX_POS, y0=BOX_LO, x1=BOX_POS, y1=BOX_Q1, line_color=AXC, line_width=1)
pb.segment(x0=[c - 0.12 for c in BOX_POS], y0=BOX_HI, x1=[c + 0.12 for c in BOX_POS], y1=BOX_HI, line_color=AXC)
pb.segment(x0=[c - 0.12 for c in BOX_POS], y0=BOX_LO, x1=[c + 0.12 for c in BOX_POS], y1=BOX_LO, line_color=AXC)
pb.quad(left=[c - 0.25 for c in BOX_POS], right=[c + 0.25 for c in BOX_POS], bottom=BOX_Q1, top=BOX_Q3,
        fill_color="white", line_color=BOXC, line_width=1.6)
pb.segment(x0=[c - 0.25 for c in BOX_POS], y0=BOX_MED, x1=[c + 0.25 for c in BOX_POS], y1=BOX_MED,
           line_color=RED, line_width=1.6)
put(C3, 146, 13, "Ki67 Levels at CDK2 Activity Rise", 11, align="center")

# ---------------- row 5 : D ----------------
XT_D = [0, 5, 10, 15, 20, 25, 30]
YT_G = [200, 600, 1000, 1400]
DL = mk(0, 4, 48, 218, 26, 116, (0, 30), (0, 1400), XT_D, YT_G, "Geminin Signal")
right_log(DL, 17, 1000, 244)
vmark(DL, DL_MARK)
lines(DL, DL_K_T, DL_K, BLUE, 1.2, True)
lines(DL, DL_G_T, DL_G, BLACK, 1.2)
letter(DL, 1, 9, "D")
rich(DL, 131, 18, [("Single-cell CDK2", False), ("inc", True), (" trace", False)])
put(DL, 137, 135, "Time (hr)", 11, align="center")
leg(DL, 50, 59, 35, "Geminin", BLACK)
leg(DL, 50, 59, 45, "Ki67", BLUE)

DR = mk(1, 4, 55, 221, 26, 116, (0, 30), (0, 1400), XT_D, YT_G, "Geminin Signal")
right_log(DR, 17, 1000, 244)
vmark(DR, DR_MARK)
lines(DR, DR_K_T, DR_K, CYAN, 1.2, True)
lines(DR, DR_G_T, DR_G, BLACK, 1.2)
rich(DR, 138, 18, [("Single-cell CDK2", False), ("emerge", True), (" trace", False)])
put(DR, 139, 135, "Time (hr)", 11, align="center")
leg(DR, 71, 79, 35, "Geminin", BLACK)
leg(DR, 71, 79, 45, "Ki67", CYAN)

# ---------------- row 6 : E ----------------
XT_E = [-10, -5, 0, 5, 10, 15, 20, 25]
EL = mk(0, 5, 46, 218, 21, 109, (-10, 25.7), (25, 1400), XT_E, YT_G, "Geminin Signal")
right_log(EL, 28.6, 1000, 244)
vmark(EL, EL_MARK)
lines(EL, EL_G_T, EL_G, BLACK, 1.2)
lines(EL, EL_K_T, EL_K, BLUE, 1.4, True)
letter(EL, 1, 9, "E")
rich(EL, 131, 13, [("CDK2", False), ("inc", True), (" Averaged Trace", False)])
put(EL, 134, 131, TRL, 11, align="center")
leg(EL, 166, 173, 31, "Geminin", BLACK)
leg(EL, 166, 173, 41, "Ki67", BLUE)

ER = mk(1, 5, 55, 221, 21, 109, (-10, 25.5), (25, 1400), XT_E, YT_G, "Geminin Signal")
right_log(ER, 28.6, 1000, 244)
vmark(ER, ER_MARK)
lines(ER, ER_K_T, ER_K, CYAN, 1.4, True)
lines(ER, ER_G_T, ER_G, BLACK, 1.2)
rich(ER, 140, 13, [("CDK2", False), ("emerge", True), (" Averaged Trace", False)])
put(ER, 139, 131, TRL, 11, align="center")
leg(ER, 59, 68, 30, "Geminin", BLACK)
leg(ER, 59, 68, 41, "Ki67", CYAN)

# ---------------- row 7 : F ----------------
XT_F = [-20, -10, 0, 10, 20, 30]
FL = mk(0, 6, 46, 218, 35, 125, (-24, 34), (0.18, 2.55), XT_F, YT_CDK, "CDK2 Activity", yfmt=CDKFMT)
right_log(FL, 13, 1000, 244)
lines(FL, FL_K_T, FL_K, PINK, 1.3, True)
lines(FL, FL_C_T, FL_C, BLACK, 1.3)
for i, c in enumerate([BLACK, PINK]):
    FL["p"].add_layout(Arrow(end=NormalHead(size=6, fill_color=c, line_color=c), line_color=c, line_width=1.5,
                             x_start=FL_ARROW_X[i], y_start=FL_ARROW_Y0[i], x_end=FL_ARROW_X[i], y_end=FL_ARROW_Y1[i]))
letter(FL, 1, 14, "F")
put(FL, 132, 27, "Cells Dividing in 100 nM MEKi", 11, align="center")
put(FL, 137, 144, TRL, 11, align="center")
leg(FL, 176, 183, 43, "CDK2", BLACK)
leg(FL, 176, 183, 55, "Ki67", PINK)

FR = mk(1, 6, 55, 221, 35, 125, (-25, 33), (-3, 510), XT_F, [0, 100, 300, 500], "Geminin Signal")
right_log(FR, 13, 1000, 244)
lines(FR, FR_K_T, FR_K, PINK, 1.3, True)
lines(FR, FR_G_T, FR_G, BLACK, 1.3)
for i, c in enumerate([BLACK, PINK]):
    FR["p"].add_layout(Arrow(end=NormalHead(size=6, fill_color=c, line_color=c), line_color=c, line_width=1.5,
                             x_start=FR_ARROW_X[i], y_start=FR_ARROW_Y0[i], x_end=FR_ARROW_X[i], y_end=FR_ARROW_Y1[i]))
put(FR, 138, 27, "Cells Dividing in 100 nM MEKi", 11, align="center")
put(FR, 139, 144, TRL, 11, align="center")
leg(FR, 171, 179, 43, "Geminin", BLACK)
leg(FR, 171, 179, 55, "Ki67", PINK)

plots = column(
    row(AL["p"], AR["p"]),
    row(B1["p"], C1["p"]),
    row(B2["p"], C2["p"]),
    row(B3["p"], C3["p"]),
    row(DL["p"], DR["p"]),
    row(EL["p"], ER["p"]),
    row(FL["p"], FR["p"]),
)
page = GridBox(children=[(plots, 0, 0), (OV, 0, 0)])

open("out.html", "w").write(file_html(page, INLINE))
